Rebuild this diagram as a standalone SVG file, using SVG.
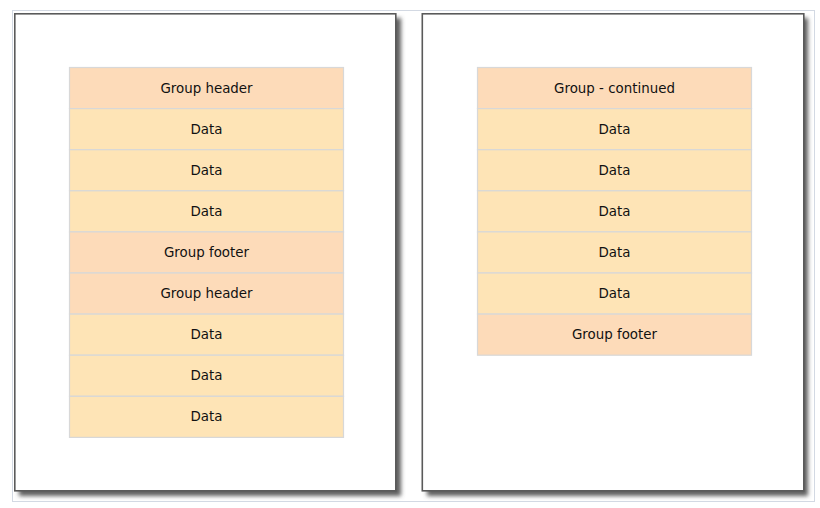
<svg xmlns="http://www.w3.org/2000/svg" width="820" height="508" viewBox="0 0 820 508">
<defs>
<filter id="sh" x="-10%" y="-10%" width="120%" height="120%">
<feGaussianBlur stdDeviation="2.2"/>
</filter>
</defs>
<style>
.page{fill:#ffffff;stroke:#5a5a5a;stroke-width:1.6}
.shadow{fill:#5e5e5e}
.hdr{fill:#fddbb9;stroke:#d8d8d8;stroke-width:1.2}
.dat{fill:#fee4b6;stroke:#d8d8d8;stroke-width:1.2}
.t{font-family:"DejaVu Sans",Verdana,sans-serif;font-size:13.4px;fill:#111;text-anchor:middle}
</style>
<rect x="0" y="0" width="820" height="508" fill="#ffffff"/>
<rect x="12.5" y="10.5" width="802" height="491" fill="#ffffff" stroke="#d3d9e3" stroke-width="1"/>
<g id="page-left">
<rect class="shadow" x="19" y="18" width="382" height="478" filter="url(#sh)"/>
<rect class="page" x="14.8" y="13.8" width="381" height="477"/>
</g>
<g id="page-right">
<rect class="shadow" x="427" y="18" width="381" height="478" filter="url(#sh)"/>
<rect class="page" x="422.3" y="13.8" width="381.5" height="477"/>
</g>
<g id="left-table">
<g id="l1"><rect class="hdr" x="69.5" y="67.5" width="274" height="41.1"/><text class="t" x="206.5" y="92.6">Group header</text></g>
<g id="l2"><rect class="dat" x="69.5" y="108.6" width="274" height="41.1"/><text class="t" x="206.5" y="133.7">Data</text></g>
<g id="l3"><rect class="dat" x="69.5" y="149.7" width="274" height="41.1"/><text class="t" x="206.5" y="174.8">Data</text></g>
<g id="l4"><rect class="dat" x="69.5" y="190.8" width="274" height="41.1"/><text class="t" x="206.5" y="215.9">Data</text></g>
<g id="l5"><rect class="hdr" x="69.5" y="231.9" width="274" height="41.1"/><text class="t" x="206.5" y="257">Group footer</text></g>
<g id="l6"><rect class="hdr" x="69.5" y="273" width="274" height="41.1"/><text class="t" x="206.5" y="298.1">Group header</text></g>
<g id="l7"><rect class="dat" x="69.5" y="314.1" width="274" height="41.1"/><text class="t" x="206.5" y="339.2">Data</text></g>
<g id="l8"><rect class="dat" x="69.5" y="355.2" width="274" height="41.1"/><text class="t" x="206.5" y="380.3">Data</text></g>
<g id="l9"><rect class="dat" x="69.5" y="396.3" width="274" height="41.1"/><text class="t" x="206.5" y="421.4">Data</text></g>
</g>
<g id="right-table">
<g id="r1"><rect class="hdr" x="477.5" y="67.5" width="274" height="41.1"/><text class="t" x="614.5" y="92.6">Group - continued</text></g>
<g id="r2"><rect class="dat" x="477.5" y="108.6" width="274" height="41.1"/><text class="t" x="614.5" y="133.7">Data</text></g>
<g id="r3"><rect class="dat" x="477.5" y="149.7" width="274" height="41.1"/><text class="t" x="614.5" y="174.8">Data</text></g>
<g id="r4"><rect class="dat" x="477.5" y="190.8" width="274" height="41.1"/><text class="t" x="614.5" y="215.9">Data</text></g>
<g id="r5"><rect class="dat" x="477.5" y="231.9" width="274" height="41.1"/><text class="t" x="614.5" y="257">Data</text></g>
<g id="r6"><rect class="dat" x="477.5" y="273" width="274" height="41.1"/><text class="t" x="614.5" y="298.1">Data</text></g>
<g id="r7"><rect class="hdr" x="477.5" y="314.1" width="274" height="41.1"/><text class="t" x="614.5" y="339.2">Group footer</text></g>
</g>
<g id="connectors"></g>
</svg>
